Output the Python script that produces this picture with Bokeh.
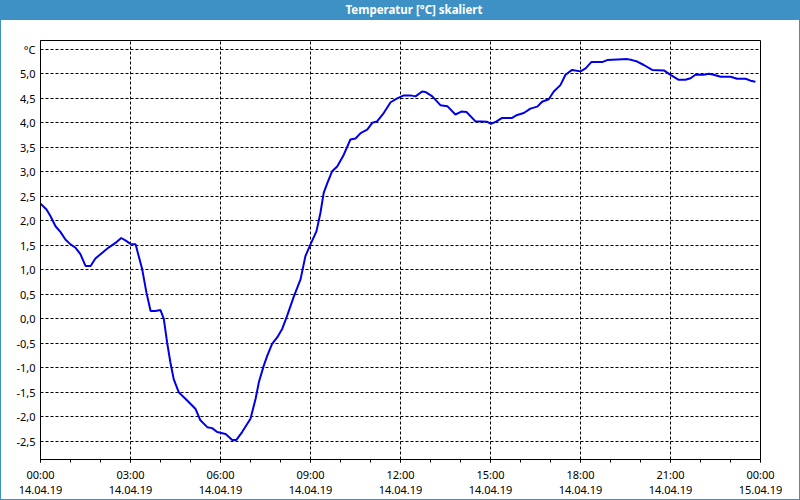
from bokeh.plotting import figure
from bokeh.models import Div, Range1d, FixedTicker
from bokeh.layouts import column
from bokeh.embed import file_html
from bokeh.resources import INLINE

# ---- data (hours since 14.04.19 00:00, temperature in °C) ----
hours = [0.0, 0.2, 0.33, 0.5, 0.67, 0.83, 1.0, 1.17, 1.33, 1.5, 1.67, 1.83,
         2.06, 2.28, 2.5, 2.69, 2.83, 3.0, 3.17, 3.39, 3.53, 3.67, 3.83, 4.0,
         4.11, 4.22, 4.33, 4.44, 4.61, 4.83, 5.17, 5.33, 5.56, 5.72, 5.89, 6.17,
         6.39, 6.53, 6.72, 7.0, 7.17, 7.28, 7.44, 7.56, 7.72, 7.89, 8.06, 8.22,
         8.44, 8.67, 8.83, 9.0, 9.2, 9.33, 9.44, 9.56, 9.72, 9.89, 10.11, 10.33,
         10.5, 10.67, 10.89, 11.06, 11.22, 11.44, 11.67, 11.89, 12.11, 12.33, 12.5, 12.72,
         12.83, 13.06, 13.33, 13.56, 13.83, 14.03, 14.2, 14.5, 14.89, 15.02, 15.2, 15.39,
         15.72, 15.89, 16.11, 16.33, 16.56, 16.72, 16.94, 17.11, 17.33, 17.5, 17.72, 18.0,
         18.17, 18.36, 18.72, 18.89, 19.56, 19.72, 19.89, 20.11, 20.39, 20.78, 21.0, 21.26,
         21.5, 21.67, 21.83, 22.11, 22.28, 22.44, 22.67, 23.0, 23.22, 23.5, 23.67, 23.83]
temps = [2.35, 2.23, 2.10, 1.89, 1.77, 1.62, 1.52, 1.45, 1.32, 1.08, 1.08, 1.23,
         1.35, 1.46, 1.55, 1.65, 1.60, 1.53, 1.52, 1.01, 0.54, 0.16, 0.16, 0.18,
         0.0, -0.48, -0.89, -1.23, -1.50, -1.63, -1.84, -2.07, -2.21, -2.23, -2.31, -2.35,
         -2.47, -2.47, -2.31, -2.04, -1.63, -1.29, -0.96, -0.75, -0.51, -0.38, -0.20, 0.06,
         0.45, 0.81, 1.28, 1.52, 1.79, 2.16, 2.57, 2.77, 3.01, 3.11, 3.35, 3.66,
         3.68, 3.79, 3.86, 4.00, 4.03, 4.20, 4.42, 4.50, 4.56, 4.56, 4.54, 4.64,
         4.63, 4.54, 4.36, 4.34, 4.17, 4.23, 4.22, 4.03, 4.02, 3.98, 4.03, 4.10,
         4.10, 4.16, 4.20, 4.29, 4.33, 4.43, 4.48, 4.64, 4.77, 4.98, 5.08, 5.05,
         5.11, 5.24, 5.24, 5.28, 5.30, 5.28, 5.25, 5.18, 5.08, 5.07, 4.98, 4.88,
         4.88, 4.91, 4.98, 4.98, 5.00, 4.98, 4.94, 4.94, 4.90, 4.90, 4.86, 4.84]

x_tick_hours = [0, 3, 6, 9, 12, 15, 18, 21, 24]
x_tick_times = ["00:00", "03:00", "06:00", "09:00", "12:00", "15:00", "18:00", "21:00", "00:00"]
x_tick_dates = ["14.04.19", "14.04.19", "14.04.19", "14.04.19", "14.04.19",
                "14.04.19", "14.04.19", "14.04.19", "15.04.19"]
x_minor_hours = list(range(0, 25))

y_tick_values = [-2.5, -2.0, -1.5, -1.0, -0.5, 0.0, 0.5, 1.0, 1.5, 2.0, 2.5, 3.0,
                 3.5, 4.0, 4.5, 5.0, 5.5]
y_tick_labels = ["-2,5", "-2,0", "-1,5", "-1,0", "-0,5", "0,0", "0,5", "1,0", "1,5",
                 "2,0", "2,5", "3,0", "3,5", "4,0", "4,5", "5,0", "°C"]

title_text = "Temperatur [°C] skaliert"

BAR = "#3d91c4"
FONT = "Noto Sans"

title = Div(
    text=f'<div style="width:798px;height:19px;line-height:18px;text-align:center;'
         f'padding-left:28px;box-sizing:border-box;color:white;font-family:\'{FONT}\';'
         f'font-weight:bold;font-size:11.5px;">{title_text}</div>',
    width=798, height=19,
    styles={"background-color": BAR, "margin": "0", "padding": "0"},
)

p = figure(width=798, height=479, output_backend="svg", toolbar_location=None,
           x_range=Range1d(0, 24), y_range=Range1d(-2.87, 5.68),
           min_border_left=39, min_border_right=39, min_border_top=20, min_border_bottom=38,
           background_fill_color="white", border_fill_color="white")

p.outline_line_color = "black"
p.outline_line_width = 1

p.line(hours, temps, line_color="#0000e8", line_width=2)

# x axis
p.xaxis.ticker = FixedTicker(ticks=x_tick_hours, minor_ticks=x_minor_hours)
p.xaxis.major_label_overrides = {h: f"{t}\n{d}" for h, t, d in zip(x_tick_hours, x_tick_times, x_tick_dates)}
p.xaxis.axis_line_color = "black"
p.xaxis.major_tick_line_color = "black"
p.xaxis.minor_tick_line_color = "black"
p.xaxis.major_tick_in = 0
p.xaxis.major_tick_out = 3
p.xaxis.minor_tick_in = 0
p.xaxis.minor_tick_out = 3
p.xaxis.major_label_standoff = 4
p.xaxis.major_label_text_font = FONT
p.xaxis.major_label_text_font_size = "11px"
p.xaxis.major_label_text_color = "black"
p.xaxis.major_label_text_line_height = 1.0

# y axis
p.yaxis.ticker = FixedTicker(ticks=y_tick_values, minor_ticks=[])
p.yaxis.major_label_overrides = {v: s for v, s in zip(y_tick_values, y_tick_labels)}
p.yaxis.axis_line_color = "black"
p.yaxis.major_tick_in = 0
p.yaxis.major_tick_out = 0
p.yaxis.minor_tick_in = 0
p.yaxis.minor_tick_out = 0
p.yaxis.major_label_standoff = 5
p.yaxis.major_label_text_font = FONT
p.yaxis.major_label_text_font_size = "11px"
p.yaxis.major_label_text_color = "black"

# grids
for g in (p.xgrid, p.ygrid):
    g.grid_line_color = "black"
    g.grid_line_dash = "3 2"
    g.grid_line_width = 1
p.xgrid.ticker = FixedTicker(ticks=x_tick_hours)
p.ygrid.ticker = FixedTicker(ticks=y_tick_values)

layout = column(title, p, spacing=0,
                styles={"border": f"1px solid {BAR}"})

open("out.html", "w").write(file_html(layout, INLINE))
